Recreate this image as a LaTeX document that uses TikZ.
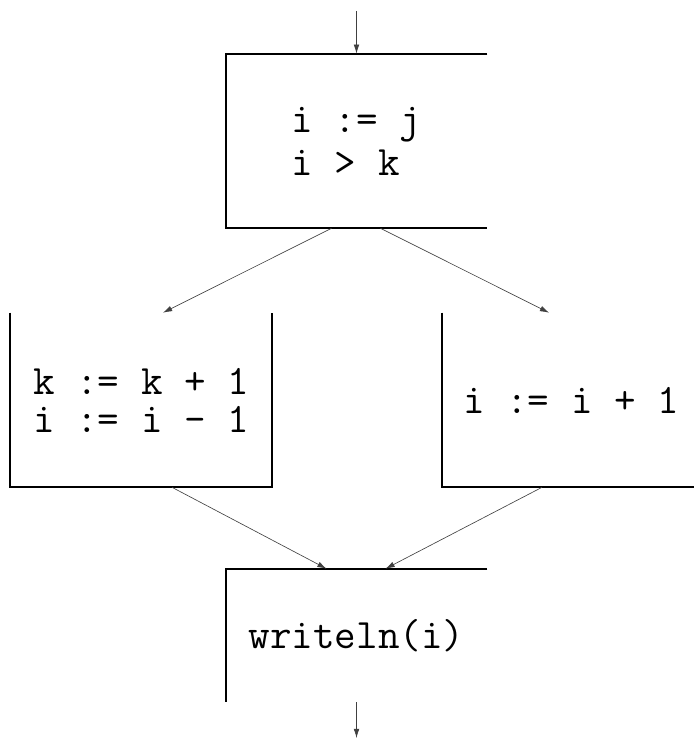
\documentclass[tikz,border=0pt]{standalone}
\usepackage{fontspec}
\usepackage{tikz}
\usetikzlibrary{arrows.meta,positioning,calc}

\begin{document}
\begin{tikzpicture}[
    x=0.025cm, y=-0.025cm,
    >={Latex[length=6.5pt,width=4pt]},
    block/.style={
      rectangle,
      inner sep=0pt,
      minimum height=4.35cm,
      minimum width=6.525cm
    },
    code/.style={
      align=left,
      font=\fontsize{29.8}{30.6}\selectfont\ttfamily
    },
    side/.style={draw=black, line width=1.2pt},
    flow/.style={->, draw=black!75, line width=0.45pt}
  ]

  \useasboundingbox (0,0) rectangle (694,740);
  \clip (0,0) rectangle (694,740);

  \node[block, code] (b1) at (356.5,141) {i := j\\i > k};
  \node[block, code, minimum width=6.55cm,
        font=\fontsize{29.8}{27}\selectfont\ttfamily] (b2) at (141,400) {k := k + 1\\i := i - 1};
  \node[block, code, minimum width=6.45cm] (b3) at (571,400) {i := i + 1};
  \node[block, code, minimum height=3.325cm] (b4) at (356.5,635.5) {writeln(i)};
  \coordinate (in) at (356.5,11);
  \coordinate (out) at (356.5,738);

  % open outlines
  \draw[side] (b1.north east) -- (b1.north west) -- (b1.south west) -- (b1.south east);
  \draw[side] (b2.north west) -- (b2.south west) -- (b2.south east) -- (b2.north east);
  \draw[side] (b3.north west) -- (b3.south west) -- (b3.south east);
  \draw[side] (b4.north east) -- (b4.north west) -- (b4.south west);

  \draw[flow] (in) -- (b1.north);
  \draw[flow] ($(b1.south)+(-25,0)$) -- ($(b2.north)+(22,0)$);
  \draw[flow] ($(b1.south)+(24,0)$) -- ($(b3.north)+(-22,0)$);
  \draw[flow] ($(b2.south)+(31,0)$) -- ($(b4.north)+(-30,0)$);
  \draw[flow] ($(b3.south)+(-29,0)$) -- ($(b4.north)+(29,0)$);
  \draw[flow] (b4.south) -- (out);

\end{tikzpicture}
\end{document}
